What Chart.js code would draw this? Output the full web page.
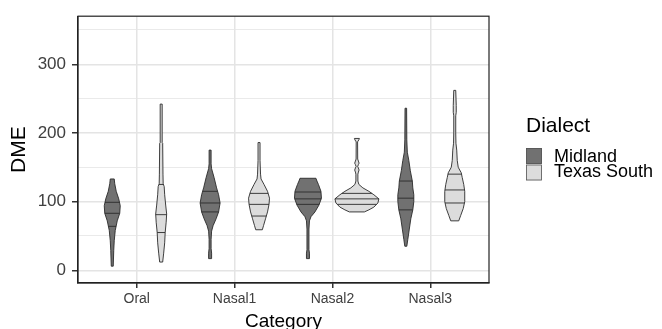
<!DOCTYPE html>
<html>
<head>
<meta charset="utf-8">
<script src="https://cdn.jsdelivr.net/npm/chart.js@4"></script>
<style>
  body { margin: 0; background: #fff; }
</style>
</head>
<body>
<canvas id="myChart" width="662" height="329"></canvas>
<script>
const categories = ["Oral", "Nasal1", "Nasal2", "Nasal3"];
const dialects = ["Midland", "Texas South"];
const yTickValues = [0, 100, 200, 300];

// violin outlines: [DME value, density half-width]
const midlandProfiles = [
  [[6,1],[15,1.2],[29,1.5],[43,2],[58,3],[72,5],[83,7.5],[94,8],[104,6.5],[115,4],[126,2.5],[133,2]],
  [[17,1.5],[25,1.5],[32,1],[45,1],[57,1.5],[65,3],[75,6],[85,8.5],[98,10],[110,8.5],[120,6.5],[135,4],[148,1.5],[155,1],[175,1]],
  [[17,1.5],[25,1.5],[30,1],[60,1],[72,1.5],[78,3],[85,7],[95,11],[105,13.5],[115,13],[125,10.5],[130,9],[134,8]],
  [[35,1],[45,2],[60,3.5],[75,5],[88,7],[100,8],[110,8],[120,7],[130,6.5],[145,4.5],[160,3],[172,1.5],[190,1],[236,0.8]]
];
const texasProfiles = [
  [[12,1.5],[25,2.5],[40,3.5],[55,4],[70,5],[82,5.5],[95,4.5],[110,3.5],[122,3],[126,2],[140,1.8],[185,1.5],[186,1],[242,1]],
  [[59,3.3],[65,4.5],[75,6.5],[85,8.5],[96,10],[105,10.5],[115,8.5],[125,5],[133,2],[140,1.5],[160,1],[186,1]],
  [[85,7.5],[88,12],[92,17],[98,21],[104,22],[110,17],[115,12],[120,6],[125,2],[130,1],[140,1],[143,1.5],[146,2.2],[149,1.5],[151,0.8],[154,1.5],[156,2.2],[159,1.5],[162,0.8],[187,0.7],[190,2],[192,2.5]],
  [[72,4],[80,6],[90,8.5],[100,10],[115,10],[125,9],[135,7.5],[142,6.5],[150,3.5],[160,2.5],[175,2],[185,1.2],[200,1],[225,1],[230,1.5],[240,1.5],[262,1]]
];
// 25%, 50%, 75% lines
const midlandQuartiles = [[64,83,99],[85,98,115],[96,104,114],[88,105,130]];
const texasQuartiles = [[55,81,125],[79,96,112],[96,104,112],[98,117,140]];

const fillColors = ["#717171", "#dcdcdc"];
const FONT = "'Liberation Sans', Arial, sans-serif";
const dodge = 0.25;
const densityUnit = 1 / 98;

const profiles = [midlandProfiles, texasProfiles];
const quartiles = [midlandQuartiles, texasQuartiles];

function widthAt(prof, v) {
  for (let k = 0; k < prof.length - 1; k++) {
    const a = prof[k], b = prof[k + 1];
    if (v >= a[0] && v <= b[0]) {
      return a[1] + (b[1] - a[1]) * (v - a[0]) / (b[0] - a[0]);
    }
  }
  return 0;
}

const violinPlugin = {
  id: "violins",
  beforeDatasetsDraw(chart) {
    const ctx = chart.ctx;
    const x = chart.scales.x, y = chart.scales.y;
    ctx.save();
    profiles.forEach((group, d) => {
      group.forEach((prof, i) => {
        const cx = i + 1 + (d === 0 ? -dodge : dodge);
        ctx.beginPath();
        prof.forEach(([v, w], k) => {
          const px = x.getPixelForValue(cx + w * densityUnit);
          const py = y.getPixelForValue(v);
          if (k === 0) ctx.moveTo(px, py); else ctx.lineTo(px, py);
        });
        for (let k = prof.length - 1; k >= 0; k--) {
          const [v, w] = prof[k];
          ctx.lineTo(x.getPixelForValue(cx - w * densityUnit), y.getPixelForValue(v));
        }
        ctx.closePath();
        ctx.fillStyle = fillColors[d];
        ctx.fill();
        ctx.strokeStyle = "#2a2a2a";
        ctx.lineWidth = 0.9;
        ctx.stroke();
        quartiles[d][i].forEach(q => {
          const w = widthAt(prof, q);
          const py = y.getPixelForValue(q);
          ctx.beginPath();
          ctx.moveTo(x.getPixelForValue(cx - w * densityUnit), py);
          ctx.lineTo(x.getPixelForValue(cx + w * densityUnit), py);
          ctx.stroke();
        });
      });
    });
    ctx.restore();
  },
  afterDraw(chart) {
    const ctx = chart.ctx;
    const a = chart.chartArea;
    ctx.save();
    ctx.strokeStyle = "#222";
    ctx.lineWidth = 1.2;
    ctx.strokeRect(a.left, a.top, a.right - a.left, a.bottom - a.top);

    // legend
    ctx.fillStyle = "#000";
    ctx.font = "21px " + FONT;
    ctx.textBaseline = "middle";
    ctx.textAlign = "left";
    ctx.fillText("Dialect", 526, 126);
    chart.data.datasets.forEach((ds, d) => {
      const top = 148 + d * 16.5;
      ctx.fillStyle = ds.backgroundColor;
      ctx.fillRect(526, top, 16, 16);
      ctx.strokeStyle = "#555";
      ctx.lineWidth = 0.8;
      ctx.strokeRect(526.5, top + 0.5, 15, 15);
      ctx.fillStyle = "#000";
      ctx.font = "18px " + FONT;
      ctx.fillText(ds.label, 554, 157 + d * 15);
    });
    ctx.restore();
  }
};

const datasets = dialects.map((name, d) => ({
  label: name,
  data: quartiles[d].map((q, i) => ({ x: i + 1 + (d === 0 ? -dodge : dodge), y: q[1] })),
  backgroundColor: fillColors[d],
  pointRadius: 0
}));

new Chart(document.getElementById("myChart"), {
  type: "scatter",
  data: { datasets: datasets },
  plugins: [violinPlugin],
  options: {
    responsive: false,
    animation: false,
    devicePixelRatio: 1,
    layout: { padding: { left: 0, right: 173, top: 13, bottom: 0 } },
    plugins: { legend: { display: false }, tooltip: { enabled: false } },
    scales: {
      x: {
        type: "linear",
        min: 0.4,
        max: 4.6,
        afterBuildTicks: (scale) => { scale.ticks = categories.map((c, i) => ({ value: i + 1 })); },
        afterFit: (scale) => { scale.height = 46; },
        ticks: {
          callback: (v) => categories[v - 1],
          color: "#404040",
          font: { family: FONT, size: 14 },
          padding: 3,
          maxRotation: 0
        },
        grid: { color: "#e4e4e4", lineWidth: 1.5, tickColor: "#333", tickLength: 5 },
        border: { color: "#222", width: 1.2 },
        title: { display: true, text: "Category", color: "#000", font: { family: FONT, size: 19, lineHeight: 0.8 }, padding: 0 }
      },
      y: {
        min: -18.5,
        max: 370,
        afterBuildTicks: (scale) => {
          const t = [];
          for (let v = 0; v <= 350; v += 50) t.push({ value: v });
          scale.ticks = t;
        },
        afterFit: (scale) => { scale.width = 78; },
        ticks: {
          callback: (v) => yTickValues.includes(v) ? String(v) : "",
          color: "#404040",
          font: { family: FONT, size: 17 },
          padding: 6
        },
        grid: {
          color: "#e4e4e4",
          lineWidth: (c) => yTickValues.includes(c.tick.value) ? 1.5 : 0.8,
          tickColor: (c) => yTickValues.includes(c.tick.value) ? "#333" : "rgba(0,0,0,0)",
          tickLength: 6
        },
        border: { color: "#222", width: 1.2 },
        title: { display: true, text: "DME", color: "#000", font: { family: FONT, size: 21 }, padding: { top: 7, bottom: 0 } }
      }
    }
  }
});
</script>
</body>
</html>
